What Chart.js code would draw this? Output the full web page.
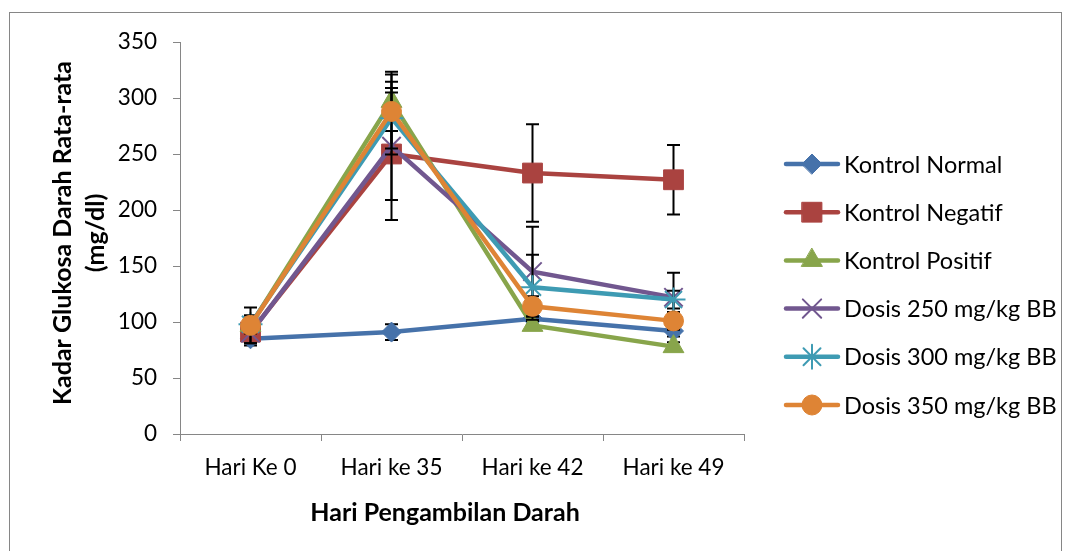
<!DOCTYPE html>
<html>
<head>
<meta charset="utf-8">
<script src="https://cdn.jsdelivr.net/npm/chart.js@4.4.0/dist/chart.umd.min.js"></script>
<style>
  html, body { margin: 0; padding: 0; background: #fff; }
  #wrap { width: 1066px; height: 551px; position: relative; }
</style>
</head>
<body>
<div id="wrap"><canvas id="chart"></canvas></div>
<script>
const days = ["Hari Ke 0", "Hari ke 35", "Hari ke 42", "Hari ke 49"];
const yTicks = [0, 50, 100, 150, 200, 250, 300, 350];

// mean blood glucose (mg/dl)
const kontrolNormal = [85, 91, 103, 92];
const kontrolNegatif = [91, 250, 233, 227];
const kontrolPositif = [97, 297, 97, 78];
const dosis250 = [90, 257, 145, 122];
const dosis300 = [98, 282, 131, 120];
const dosis350 = [97, 288, 114, 101];

// error bars (+/-)
const sdNormal = [6, 7, 5, 5];
const sdNegatif = [8, 59, 43.5, 31];
const sdPositif = [7, 26.5, 4, 4];
const sd250 = [9, 48, 40, 22];
const sd300 = [8, 32.5, 29, 8];
const sd350 = [16, 33, 9, 8];

const seriesNames = ["Kontrol Normal", "Kontrol Negatif", "Kontrol Positif",
  "Dosis 250 mg/kg BB", "Dosis 300 mg/kg BB", "Dosis 350 mg/kg BB"];
const seriesData = [kontrolNormal, kontrolNegatif, kontrolPositif, dosis250, dosis300, dosis350];
const seriesErr = [sdNormal, sdNegatif, sdPositif, sd250, sd300, sd350];
const colors = ["#4672AA", "#AA4340", "#88A54B", "#71578F", "#3E9BB3", "#DE8435"];
const markers = ["rectRot", "rect", "triangle", "crossRot", "star", "circle"];
const markerSize = [10, 14, 12, 13, 12, 10];

const axisGray = "#868686";

// draw error bars of a dataset just before it is drawn
const errorBars = {
  id: "errorBars",
  beforeDatasetDraw(chart, args) {
    const errs = seriesErr[args.index];
    if (!errs) return;
    const ctx = chart.ctx;
    const y = chart.scales.y;
    ctx.save();
    ctx.strokeStyle = "#000";
    ctx.lineWidth = 2;
    args.meta.data.forEach((pt, i) => {
      const v = seriesData[args.index][i];
      const top = y.getPixelForValue(v + errs[i]);
      const bot = y.getPixelForValue(v - errs[i]);
      ctx.beginPath();
      ctx.moveTo(pt.x, top); ctx.lineTo(pt.x, bot);
      ctx.moveTo(pt.x - 6.5, top); ctx.lineTo(pt.x + 6.5, top);
      ctx.moveTo(pt.x - 6.5, bot); ctx.lineTo(pt.x + 6.5, bot);
      ctx.stroke();
    });
    ctx.restore();
  }
};

// frame, axis titles and legend
const decorations = {
  id: "decorations",
  beforeDraw(chart) {
    const ctx = chart.ctx;
    ctx.save();
    ctx.fillStyle = "#fff";
    ctx.fillRect(0, 0, chart.width, chart.height);
    ctx.strokeStyle = axisGray;
    ctx.lineWidth = 1;
    ctx.strokeRect(9.5, 12.5, 1052, 600);
    ctx.restore();
  },
  afterDraw(chart) {
    const ctx = chart.ctx;
    ctx.save();
    ctx.fillStyle = "#000";
    ctx.textAlign = "center";
    ctx.textBaseline = "middle";
    ctx.font = "bold 25px Lato";
    ctx.fillText("Hari Pengambilan Darah", 445, 513);
    ctx.translate(63, 233);
    ctx.rotate(-Math.PI / 2);
    ctx.fillText("Kadar Glukosa Darah Rata-rata", 0, 0);
    ctx.fillText("(mg/dl)", 0, 33);
    ctx.restore();

    // legend
    ctx.save();
    chart.data.datasets.forEach((ds, i) => {
      const ly = 164 + i * 48.2;
      ctx.strokeStyle = ds.borderColor;
      ctx.lineWidth = 4.5;
      ctx.lineCap = "round";
      ctx.beginPath();
      ctx.moveTo(786, ly); ctx.lineTo(838, ly);
      ctx.stroke();
      ctx.fillStyle = ds.borderColor;
      ctx.lineWidth = ds.pointBorderWidth;
      if (Chart.helpers && Chart.helpers.drawPoint) {
        Chart.helpers.drawPoint(ctx, { pointStyle: ds.pointStyle, radius: ds.pointRadius, rotation: 0, borderWidth: ds.pointBorderWidth }, 812, ly);
      }
      ctx.fillStyle = "#000";
      ctx.font = "23.5px Lato";
      ctx.textAlign = "left";
      ctx.textBaseline = "middle";
      ctx.fillText(ds.label, 844, ly + 1);
    });
    ctx.restore();
  }
};

const datasets = seriesNames.map((name, i) => ({
  label: name,
  data: seriesData[i],
  borderColor: colors[i],
  backgroundColor: colors[i],
  borderWidth: 4.5,
  pointStyle: markers[i],
  pointRadius: markerSize[i],
  pointHoverRadius: markerSize[i],
  pointBackgroundColor: colors[i],
  pointBorderColor: colors[i],
  pointBorderWidth: (markers[i] === "crossRot" || markers[i] === "star") ? 2 : 1,
  tension: 0,
  order: seriesNames.length - i
}));

new Chart(document.getElementById("chart"), {
  type: "line",
  data: { labels: days, datasets: datasets },
  options: {
    responsive: true,
    maintainAspectRatio: false,
    animation: false,
    layout: { padding: { left: 0, right: 322, top: 42, bottom: 0 } },
    plugins: {
      legend: { display: false },
      tooltip: { enabled: false }
    },
    scales: {
      x: {
        offset: true,
        grid: { offset: true, drawOnChartArea: false, tickLength: 7, color: axisGray, tickColor: axisGray },
        border: { color: axisGray, width: 1 },
        ticks: { font: { family: "Lato", size: 22.5 }, color: "#000", padding: 13, maxRotation: 0, autoSkip: false },
        afterFit: (s) => { s.height = 117; }
      },
      y: {
        min: 0,
        max: 350,
        afterBuildTicks: (s) => { s.ticks = yTicks.map(v => ({ value: v })); },
        grid: { drawOnChartArea: false, tickLength: 7, color: axisGray, tickColor: axisGray },
        border: { color: axisGray, width: 1 },
        ticks: { font: { family: "Lato", size: 22.5 }, color: "#000", padding: 16 },
        afterFit: (s) => { s.width = 180; }
      }
    }
  },
  plugins: [errorBars, decorations]
});
</script>
</body>
</html>
